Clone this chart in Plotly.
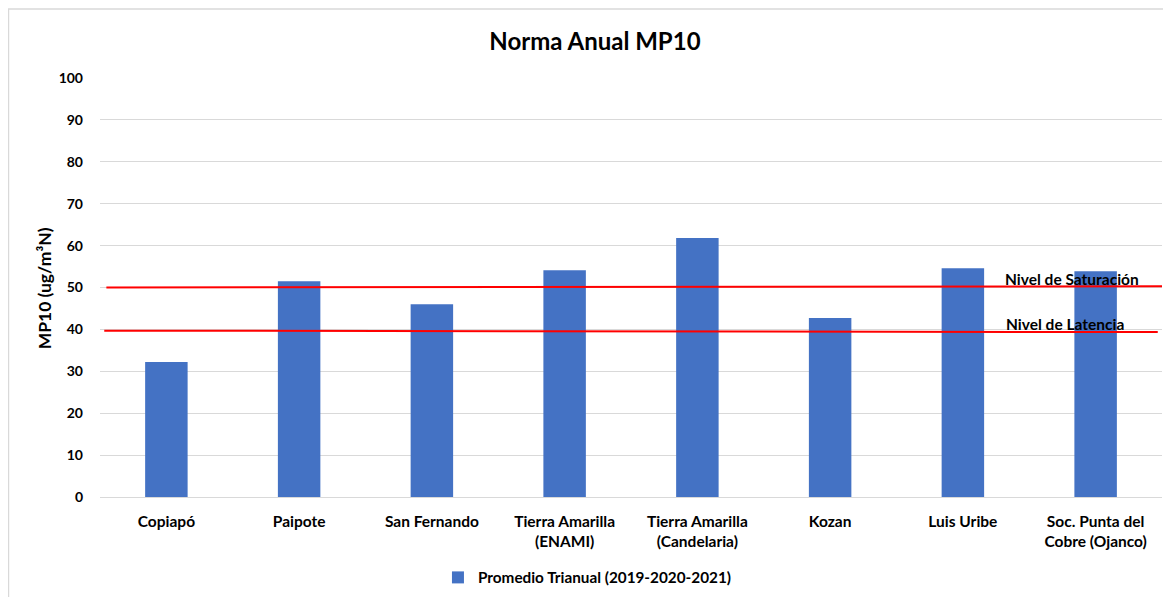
import plotly.graph_objects as go

categories = ["Copiapó", "Paipote", "San Fernando", "Tierra Amarilla<br>(ENAMI)",
              "Tierra Amarilla<br>(Candelaria)", "Kozan", "Luis Uribe",
              "Soc. Punta del<br>Cobre (Ojanco)"]
promedio = [32.2, 51.5, 46.0, 54.1, 61.8, 42.7, 54.6, 53.9]
y_ticks = [0, 10, 20, 30, 40, 50, 60, 70, 80, 90, 100]
saturacion = [50.0, 50.3]   # left, right end
latencia = [39.7, 39.35]    # left, right end

FONT = "Lato"
BLUE = "#4472C4"

fig = go.Figure()
fig.add_trace(go.Bar(
    x=categories, y=promedio, name="<b>Promedio Trianual (2019-2020-2021)</b>",
    marker=dict(color=BLUE, line=dict(width=0)), width=0.32,
))

# page has an 8px body margin, so the figure is sized to fill the rest
fig.update_layout(
    width=1163, height=589,
    margin=dict(l=92, r=9, t=70, b=100, autoexpand=False),
    paper_bgcolor="white", plot_bgcolor="white",
    font=dict(family=FONT, color="#000000", size=12),
    title=dict(text="<b>Norma Anual MP10</b>", x=0.5047, xanchor="center",
               y=0.9423, yanchor="middle", font=dict(size=24, family=FONT)),
    showlegend=True,
    legend=dict(orientation="h", x=0.459, xanchor="center", y=-0.192, yanchor="middle",
                font=dict(size=15.3, family=FONT)),
)
fig.update_xaxes(showgrid=False, showline=False, ticks="", automargin=False,
                 tickfont=dict(size=15.5, family=FONT, weight="bold"), ticklabelstandoff=13)
fig.update_yaxes(range=[0, 100], tickvals=y_ticks, showgrid=True, gridcolor="#D9D9D9",
                 gridwidth=1, zeroline=True, zerolinecolor="#D9D9D9", zerolinewidth=1,
                 automargin=False,
                 tickfont=dict(size=14, family=FONT, weight="bold"), ticklabelstandoff=16)

fig.add_annotation(text="<b>MP10 (ug/m³N)</b>", xref="paper", yref="paper",
                   x=-0.0527, y=0.498, textangle=-90, showarrow=False,
                   xanchor="center", yanchor="middle", font=dict(size=17.5, family=FONT))

# Reference lines
fig.add_shape(type="line", xref="paper", yref="y", x0=0.006, x1=1.0,
              y0=saturacion[0], y1=saturacion[1], line=dict(color="#FF0000", width=2))
fig.add_shape(type="line", xref="paper", yref="y", x0=0.004, x1=0.996,
              y0=latencia[0], y1=latencia[1], line=dict(color="#FF0000", width=2))

fig.add_annotation(text="<b>Nivel de Saturación</b>", xref="paper", yref="y",
                   x=0.85, y=52.0, xanchor="left", yanchor="middle",
                   showarrow=False, font=dict(size=15.5, family=FONT))
fig.add_annotation(text="<b>Nivel de Latencia</b>", xref="paper", yref="y",
                   x=0.851, y=41.25, xanchor="left", yanchor="middle",
                   showarrow=False, font=dict(size=15.5, family=FONT))

# Chart area border
fig.add_shape(type="rect", xref="paper", yref="paper", x0=-0.0862, x1=1.02,
              y0=-0.30, y1=1.1648, line=dict(color="#D9D9D9", width=1.5),
              fillcolor="rgba(0,0,0,0)", layer="below")

fig.write_html("out.html")
